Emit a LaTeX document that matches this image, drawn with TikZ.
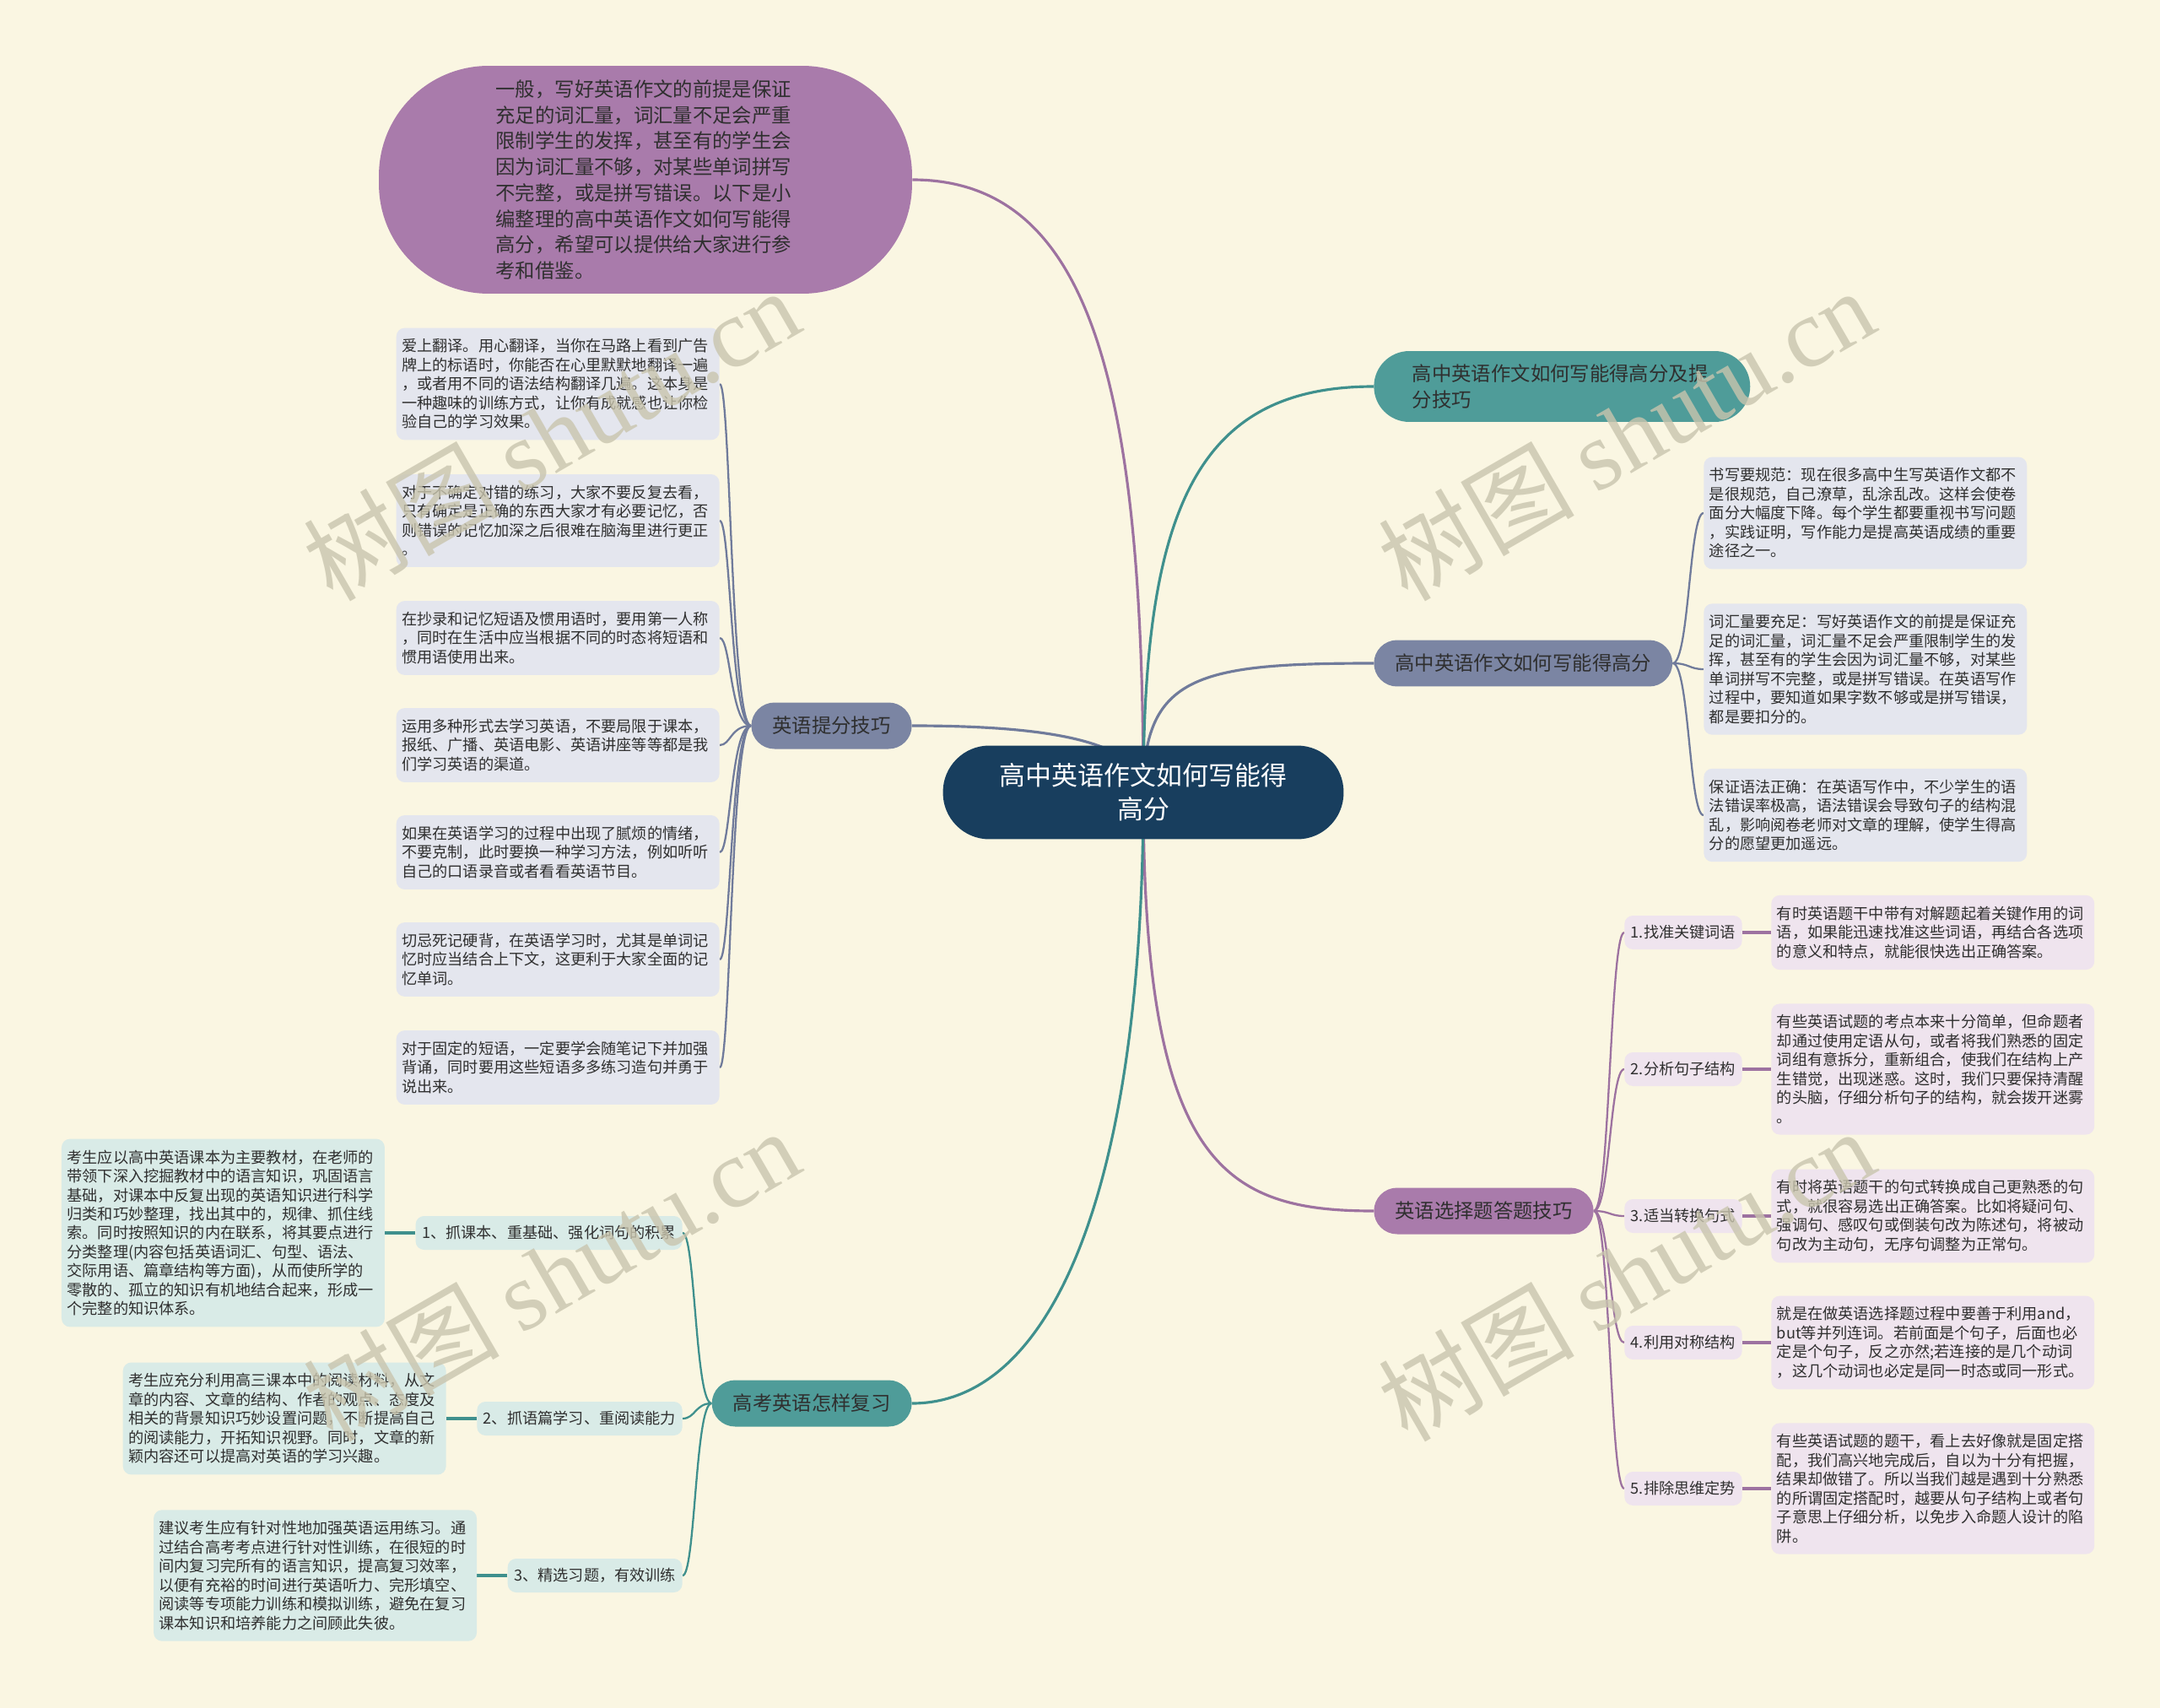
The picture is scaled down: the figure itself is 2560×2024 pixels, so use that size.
\documentclass[tikz,border=0pt]{standalone}
\usepackage{fontspec}
\setmainfont{Noto Sans CJK SC}
\newfontfamily\latinserif{Liberation Serif}
\usepackage{xcolor}
\usepackage{tikz}
\usetikzlibrary{positioning, backgrounds}

\definecolor{paper}{HTML}{FAF6E2}
\definecolor{corecol}{HTML}{183E5E}
\definecolor{tealcol}{HTML}{4F9C99}
\definecolor{slatecol}{HTML}{7B85A3}
\definecolor{plumcol}{HTML}{A97BAB}
\definecolor{tealpale}{HTML}{D9EBE7}
\definecolor{slatepale}{HTML}{E4E6EE}
\definecolor{plumpale}{HTML}{EFE4EE}
\definecolor{tealline}{HTML}{3F908D}
\definecolor{slateline}{HTML}{707B9B}
\definecolor{plumline}{HTML}{9D72A0}
\definecolor{inkcol}{HTML}{2F2F2F}
\definecolor{stampcol}{HTML}{C9C5AE}

\begin{document}
\begin{tikzpicture}[
        x=0.02cm, y=-0.02cm,
        core/.style={
            fill=corecol,
            rounded corners=1.1cm,
            minimum width=9.5cm,
            minimum height=2.22cm,
            text=white,
            align=center,
            font=\fontsize{17.6}{22.8}\selectfont
        },
        bubble/.style={
            fill=plumcol,
            rounded corners=2.6cm,
            minimum width=12.64cm,
            minimum height=5.4cm,
            text width=7.1cm,
            align=left,
            text=inkcol,
            font=\fontsize{13.3}{17.5}\selectfont
        },
        topic/.style={
            rounded corners=0.55cm,
            minimum height=1.1cm,
            inner xsep=0.5cm,
            text=inkcol,
            font=\fontsize{13.3}{17.5}\selectfont
        },
        leaf/.style={
            rounded corners=0.2cm,
            text width=7.4cm,
            align=left,
            inner xsep=0.13cm,
            inner ysep=0.26cm,
            text=inkcol,
            font=\fontsize{10.35}{12.8}\selectfont
        },
        tag/.style={
            rounded corners=0.2cm,
            minimum height=0.8cm,
            inner xsep=0.15cm,
            text=inkcol,
            font=\fontsize{10.35}{12.8}\selectfont
        },
        slateleaf/.style={leaf, fill=slatepale},
        tealleaf/.style={leaf, fill=tealpale},
        plumleaf/.style={leaf, fill=plumpale},
        tealtag/.style={tag, fill=tealpale},
        plumtag/.style={tag, fill=plumpale},
        trunk/.style={line width=1.8pt},
        twig/.style={line width=1.3pt},
        link/.style={line width=1.9pt},
        stamp/.style={rotate=30, text=stampcol, text opacity=0.8, font=\fontsize{66}{66}\selectfont}
    ]
    \useasboundingbox (0,0) rectangle (2560,2024);

    % centre and first level
    \node[core] (core) at (1355,939) {高中英语作文如何写能得\\高分};

    \node[bubble] (intro) at (765,213) {
        一般，写好英语作文的前提是保证\\
        充足的词汇量，词汇量不足会严重\\
        限制学生的发挥，甚至有的学生会\\
        因为词汇量不够，对某些单词拼写\\
        不完整，或是拼写错误。以下是小\\
        编整理的高中英语作文如何写能得\\
        高分，希望可以提供给大家进行参\\
        考和借鉴。};

    \node[topic, fill=tealcol, text width=7.1cm, align=left, minimum width=8.92cm,
          minimum height=1.68cm, rounded corners=0.84cm, anchor=west] (essay) at (1628,458)
        {高中英语作文如何写能得高分及提\\分技巧};
    \node[topic, fill=slatecol, anchor=west] (score) at (1628,786) {高中英语作文如何写能得高分};
    \node[topic, fill=plumcol, anchor=west] (choice) at (1628,1435) {英语选择题答题技巧};
    \node[topic, fill=slatecol, anchor=east] (boost) at (1081,860) {英语提分技巧};
    \node[topic, fill=tealcol, anchor=east] (review) at (1081,1663) {高考英语怎样复习};

    % 英语提分技巧
    \node[slateleaf, anchor=east] (boost1) at (853,455) {
        爱上翻译。用心翻译，当你在马路上看到广告\\
        牌上的标语时，你能否在心里默默地翻译一遍\\
        ，或者用不同的语法结构翻译几遍。这本身是\\
        一种趣味的训练方式，让你有成就感也让你检\\
        验自己的学习效果。};
    \node[slateleaf, anchor=east] (boost2) at (853,617) {
        对于不确定对错的练习，大家不要反复去看，\\
        只有确定是正确的东西大家才有必要记忆，否\\
        则错误的记忆加深之后很难在脑海里进行更正\\
        。};
    \node[slateleaf, anchor=east] (boost3) at (853,756) {
        在抄录和记忆短语及惯用语时，要用第一人称\\
        ，同时在生活中应当根据不同的时态将短语和\\
        惯用语使用出来。};
    \node[slateleaf, anchor=east] (boost4) at (853,883) {
        运用多种形式去学习英语，不要局限于课本，\\
        报纸、广播、英语电影、英语讲座等等都是我\\
        们学习英语的渠道。};
    \node[slateleaf, anchor=east] (boost5) at (853,1010) {
        如果在英语学习的过程中出现了腻烦的情绪，\\
        不要克制，此时要换一种学习方法，例如听听\\
        自己的口语录音或者看看英语节目。};
    \node[slateleaf, anchor=east] (boost6) at (853,1137) {
        切忌死记硬背，在英语学习时，尤其是单词记\\
        忆时应当结合上下文，这更利于大家全面的记\\
        忆单词。};
    \node[slateleaf, anchor=east] (boost7) at (853,1265) {
        对于固定的短语，一定要学会随笔记下并加强\\
        背诵，同时要用这些短语多多练习造句并勇于\\
        说出来。};

    % 高中英语作文如何写能得高分
    \node[slateleaf, anchor=west] (score1) at (2019,608) {
        书写要规范：现在很多高中生写英语作文都不\\
        是很规范，自己潦草，乱涂乱改。这样会使卷\\
        面分大幅度下降。每个学生都要重视书写问题\\
        ，实践证明，写作能力是提高英语成绩的重要\\
        途径之一。};
    \node[slateleaf, anchor=west] (score2) at (2019,793) {
        词汇量要充足：写好英语作文的前提是保证充\\
        足的词汇量，词汇量不足会严重限制学生的发\\
        挥，甚至有的学生会因为词汇量不够，对某些\\
        单词拼写不完整，或是拼写错误。在英语写作\\
        过程中，要知道如果字数不够或是拼写错误，\\
        都是要扣分的。};
    \node[slateleaf, anchor=west] (score3) at (2019,966) {
        保证语法正确：在英语写作中，不少学生的语\\
        法错误率极高，语法错误会导致句子的结构混\\
        乱，影响阅卷老师对文章的理解，使学生得高\\
        分的愿望更加遥远。};

    % 高考英语怎样复习
    \node[tealtag, anchor=east] (rtag1) at (809,1461) {1、抓课本、重基础、强化词句的积累};
    \node[tealleaf, left=0.72cm of rtag1] (rnote1) {
        考生应以高中英语课本为主要教材，在老师的\\
        带领下深入挖掘教材中的语言知识，巩固语言\\
        基础，对课本中反复出现的英语知识进行科学\\
        归类和巧妙整理，找出其中的，规律、抓住线\\
        索。同时按照知识的内在联系，将其要点进行\\
        分类整理(内容包括英语词汇、句型、语法、\\
        交际用语、篇章结构等方面)，从而使所学的\\
        零散的、孤立的知识有机地结合起来，形成一\\
        个完整的知识体系。};
    \node[tealtag, anchor=east] (rtag2) at (809,1681) {2、抓语篇学习、重阅读能力};
    \node[tealleaf, left=0.72cm of rtag2] (rnote2) {
        考生应充分利用高三课本中的阅读材料，从文\\
        章的内容、文章的结构、作者的观点、态度及\\
        相关的背景知识巧妙设置问题，不断提高自己\\
        的阅读能力，开拓知识视野。同时，文章的新\\
        颖内容还可以提高对英语的学习兴趣。};
    \node[tealtag, anchor=east] (rtag3) at (809,1867) {3、精选习题，有效训练};
    \node[tealleaf, left=0.72cm of rtag3] (rnote3) {
        建议考生应有针对性地加强英语运用练习。通\\
        过结合高考考点进行针对性训练，在很短的时\\
        间内复习完所有的语言知识，提高复习效率，\\
        以便有充裕的时间进行英语听力、完形填空、\\
        阅读等专项能力训练和模拟训练，避免在复习\\
        课本知识和培养能力之间顾此失彼。};

    % 英语选择题答题技巧
    \node[plumtag, anchor=west] (ctag1) at (1925,1105) {1.找准关键词语};
    \node[plumleaf, right=0.68cm of ctag1] (cnote1) {
        有时英语题干中带有对解题起着关键作用的词\\
        语，如果能迅速找准这些词语，再结合各选项\\
        的意义和特点，就能很快选出正确答案。};
    \node[plumtag, anchor=west] (ctag2) at (1925,1267) {2.分析句子结构};
    \node[plumleaf, right=0.68cm of ctag2] (cnote2) {
        有些英语试题的考点本来十分简单，但命题者\\
        却通过使用定语从句，或者将我们熟悉的固定\\
        词组有意拆分，重新组合，使我们在结构上产\\
        生错觉，出现迷惑。这时，我们只要保持清醒\\
        的头脑，仔细分析句子的结构，就会拨开迷雾\\
        。};
    \node[plumtag, anchor=west] (ctag3) at (1925,1441) {3.适当转换句式};
    \node[plumleaf, right=0.68cm of ctag3] (cnote3) {
        有时将英语题干的句式转换成自己更熟悉的句\\
        式，就很容易选出正确答案。比如将疑问句、\\
        强调句、感叹句或倒装句改为陈述句，将被动\\
        句改为主动句，无序句调整为正常句。};
    \node[plumtag, anchor=west] (ctag4) at (1925,1591) {4.利用对称结构};
    \node[plumleaf, right=0.68cm of ctag4] (cnote4) {
        就是在做英语选择题过程中要善于利用and，\\
        but等并列连词。若前面是个句子，后面也必\\
        定是个句子，反之亦然;若连接的是几个动词\\
        ，这几个动词也必定是同一时态或同一形式。};
    \node[plumtag, anchor=west] (ctag5) at (1925,1764) {5.排除思维定势};
    \node[plumleaf, right=0.68cm of ctag5] (cnote5) {
        有些英语试题的题干，看上去好像就是固定搭\\
        配，我们高兴地完成后，自以为十分有把握，\\
        结果却做错了。所以当我们越是遇到十分熟悉\\
        的所谓固定搭配时，越要从句子结构上或者句\\
        子意思上仔细分析，以免步入命题人设计的陷\\
        阱。};

    % spines
    \coordinate (bspine) at (866,0);
    \coordinate (sspine) at (2002,0);
    \coordinate (rspine) at (824,0);
    \coordinate (cspine) at (1908,0);

    \begin{scope}[on background layer]
        \fill[paper] (0,0) rectangle (2560,2024);

        \draw[trunk, plumline] (core.center) .. controls (1355,450) and (1290,213) .. (intro.east);
        \draw[trunk, tealline] (core.center) .. controls (1355,600) and (1420,458) .. (essay.west);
        \draw[trunk, slateline] (core.center) .. controls (1355,800) and (1420,786) .. (score.west);
        \draw[trunk, plumline] (core.center) .. controls (1355,1380) and (1450,1435) .. (choice.west);
        \draw[trunk, slateline] (core.center) .. controls (1355,880) and (1250,860) .. (boost.east);
        \draw[trunk, tealline] (core.center) .. controls (1355,1400) and (1250,1663) .. (review.east);

        \foreach \i in {1,...,7}
            \draw[twig, slateline] (boost.west) .. controls (bspine |- boost.west) and (bspine |- boost\i.east) .. (boost\i.east);
        \foreach \i in {1,2,3}
            \draw[twig, slateline] (score.east) .. controls (sspine |- score.east) and (sspine |- score\i.west) .. (score\i.west);
        \foreach \i in {1,2,3} {
            \draw[twig, tealline] (review.west) .. controls (rspine |- review.west) and (rspine |- rtag\i.east) .. (rtag\i.east);
            \draw[link, tealline] (rtag\i.west) -- (rnote\i.east);
        }
        \foreach \i in {1,...,5} {
            \draw[twig, plumline] (choice.east) .. controls (cspine |- choice.east) and (cspine |- ctag\i.west) .. (ctag\i.west);
            \draw[link, plumline] (ctag\i.east) -- (cnote\i.west);
        }
    \end{scope}

    % watermarks
    \foreach \wx/\wy [count=\k] in {653/514, 1927/514, 653/1510, 1927/1510}
        \node[stamp] (wm\k) at (\wx,\wy) {树图 {\latinserif shutu.cn}};
\end{tikzpicture}
\end{document}
